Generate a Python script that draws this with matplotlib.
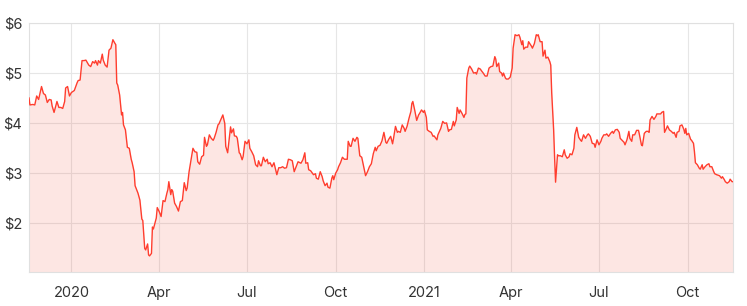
import pandas as pd
import matplotlib.pyplot as plt
import matplotlib.dates as mdates
from matplotlib.ticker import FuncFormatter

# share price readings (date, close)
dates = [
    '2019-11-18', '2019-11-19', '2019-11-22', '2019-11-24', '2019-11-26', '2019-11-28', '2019-12-01',
    '2019-12-03', '2019-12-05', '2019-12-07', '2019-12-09', '2019-12-11', '2019-12-12', '2019-12-14',
    '2019-12-17', '2019-12-19', '2019-12-21', '2019-12-23', '2019-12-25', '2019-12-26', '2019-12-28',
    '2019-12-30', '2020-01-01', '2020-01-04', '2020-01-07', '2020-01-08', '2020-01-10', '2020-01-12',
    '2020-01-14', '2020-01-16', '2020-01-19', '2020-01-21', '2020-01-23', '2020-01-25', '2020-01-26',
    '2020-01-28', '2020-01-29', '2020-01-31', '2020-02-02', '2020-02-03', '2020-02-05', '2020-02-07',
    '2020-02-09', '2020-02-11', '2020-02-13', '2020-02-15', '2020-02-16', '2020-02-17', '2020-02-18',
    '2020-02-20', '2020-02-22', '2020-02-23', '2020-02-24', '2020-02-26', '2020-02-28', '2020-03-01',
    '2020-03-03', '2020-03-04', '2020-03-06', '2020-03-07', '2020-03-08', '2020-03-10', '2020-03-12',
    '2020-03-14', '2020-03-15', '2020-03-17', '2020-03-18', '2020-03-20', '2020-03-21', '2020-03-22',
    '2020-03-24', '2020-03-25', '2020-03-26', '2020-03-29', '2020-03-30', '2020-04-01', '2020-04-03',
    '2020-04-05', '2020-04-07', '2020-04-09', '2020-04-10', '2020-04-11', '2020-04-13', '2020-04-14',
    '2020-04-15', '2020-04-17', '2020-04-19', '2020-04-21', '2020-04-23', '2020-04-25', '2020-04-27',
    '2020-04-29', '2020-04-30', '2020-05-02', '2020-05-04', '2020-05-06', '2020-05-08', '2020-05-10',
    '2020-05-11', '2020-05-13', '2020-05-15', '2020-05-17', '2020-05-18', '2020-05-20', '2020-05-21',
    '2020-05-23', '2020-05-25', '2020-05-27', '2020-05-28', '2020-05-30', '2020-06-01', '2020-06-02',
    '2020-06-04', '2020-06-06', '2020-06-08', '2020-06-09', '2020-06-11', '2020-06-13', '2020-06-14',
    '2020-06-15', '2020-06-17', '2020-06-18', '2020-06-20', '2020-06-21', '2020-06-23', '2020-06-24',
    '2020-06-26', '2020-06-27', '2020-06-29', '2020-07-01', '2020-07-03', '2020-07-04', '2020-07-06',
    '2020-07-08', '2020-07-10', '2020-07-12', '2020-07-13', '2020-07-15', '2020-07-16', '2020-07-18',
    '2020-07-20', '2020-07-22', '2020-07-23', '2020-07-25', '2020-07-27', '2020-07-29', '2020-07-30',
    '2020-08-01', '2020-08-03', '2020-08-05', '2020-08-07', '2020-08-09', '2020-08-11', '2020-08-13',
    '2020-08-15', '2020-08-17', '2020-08-19', '2020-08-21', '2020-08-23', '2020-08-26', '2020-08-28',
    '2020-08-30', '2020-08-31', '2020-09-02', '2020-09-03', '2020-09-05', '2020-09-08', '2020-09-10',
    '2020-09-11', '2020-09-13', '2020-09-15', '2020-09-17', '2020-09-18', '2020-09-20', '2020-09-22',
    '2020-09-23', '2020-09-25', '2020-09-27', '2020-09-28', '2020-09-29', '2020-10-01', '2020-10-03',
    '2020-10-04', '2020-10-06', '2020-10-08', '2020-10-10', '2020-10-13', '2020-10-14', '2020-10-16',
    '2020-10-17', '2020-10-19', '2020-10-21', '2020-10-23', '2020-10-24', '2020-10-26', '2020-10-28',
    '2020-10-30', '2020-11-01', '2020-11-03', '2020-11-05', '2020-11-07', '2020-11-09', '2020-11-11',
    '2020-11-12', '2020-11-14', '2020-11-16', '2020-11-18', '2020-11-20', '2020-11-22', '2020-11-23',
    '2020-11-25', '2020-11-27', '2020-11-29', '2020-11-30', '2020-12-02', '2020-12-04', '2020-12-05',
    '2020-12-07', '2020-12-09', '2020-12-11', '2020-12-12', '2020-12-14', '2020-12-16', '2020-12-18',
    '2020-12-19', '2020-12-20', '2020-12-22', '2020-12-24', '2020-12-26', '2020-12-27', '2020-12-29',
    '2020-12-31', '2021-01-01', '2021-01-03', '2021-01-04', '2021-01-06', '2021-01-08', '2021-01-10',
    '2021-01-11', '2021-01-14', '2021-01-15', '2021-01-18', '2021-01-20', '2021-01-22', '2021-01-24',
    '2021-01-26', '2021-01-27', '2021-01-29', '2021-01-31', '2021-02-01', '2021-02-03', '2021-02-04',
    '2021-02-06', '2021-02-07', '2021-02-09', '2021-02-11', '2021-02-12', '2021-02-13', '2021-02-14',
    '2021-02-16', '2021-02-17', '2021-02-19', '2021-02-21', '2021-02-23', '2021-02-24', '2021-02-26',
    '2021-02-28', '2021-03-01', '2021-03-03', '2021-03-05', '2021-03-07', '2021-03-09', '2021-03-11',
    '2021-03-13', '2021-03-15', '2021-03-16', '2021-03-17', '2021-03-19', '2021-03-20', '2021-03-22',
    '2021-03-23', '2021-03-24', '2021-03-26', '2021-03-27', '2021-03-29', '2021-03-31', '2021-04-02',
    '2021-04-03', '2021-04-05', '2021-04-07', '2021-04-09', '2021-04-10', '2021-04-12', '2021-04-13',
    '2021-04-14', '2021-04-16', '2021-04-18', '2021-04-19', '2021-04-20', '2021-04-22', '2021-04-23',
    '2021-04-25', '2021-04-27', '2021-04-28', '2021-04-29', '2021-05-01', '2021-05-03', '2021-05-04',
    '2021-05-06', '2021-05-07', '2021-05-09', '2021-05-11', '2021-05-12', '2021-05-13', '2021-05-15',
    '2021-05-16', '2021-05-17', '2021-05-19', '2021-05-20', '2021-05-22', '2021-05-24', '2021-05-26',
    '2021-05-27', '2021-05-29', '2021-05-31', '2021-06-01', '2021-06-03', '2021-06-05', '2021-06-06',
    '2021-06-08', '2021-06-10', '2021-06-12', '2021-06-13', '2021-06-15', '2021-06-17', '2021-06-19',
    '2021-06-20', '2021-06-22', '2021-06-24', '2021-06-26', '2021-06-27', '2021-06-29', '2021-07-01',
    '2021-07-03', '2021-07-04', '2021-07-06', '2021-07-08', '2021-07-09', '2021-07-11', '2021-07-13',
    '2021-07-15', '2021-07-16', '2021-07-18', '2021-07-20', '2021-07-22', '2021-07-23', '2021-07-25',
    '2021-07-27', '2021-07-28', '2021-07-30', '2021-08-01', '2021-08-02', '2021-08-04', '2021-08-05',
    '2021-08-07', '2021-08-09', '2021-08-11', '2021-08-12', '2021-08-14', '2021-08-15', '2021-08-17',
    '2021-08-19', '2021-08-21', '2021-08-22', '2021-08-23', '2021-08-25', '2021-08-27', '2021-08-29',
    '2021-08-30', '2021-09-01', '2021-09-03', '2021-09-04', '2021-09-06', '2021-09-07', '2021-09-09',
    '2021-09-10', '2021-09-12', '2021-09-14', '2021-09-16', '2021-09-17', '2021-09-19', '2021-09-20',
    '2021-09-22', '2021-09-23', '2021-09-25', '2021-09-27', '2021-09-28', '2021-09-29', '2021-09-30',
    '2021-10-02', '2021-10-04', '2021-10-05', '2021-10-07', '2021-10-08', '2021-10-09', '2021-10-11',
    '2021-10-13', '2021-10-14', '2021-10-16', '2021-10-17', '2021-10-19', '2021-10-21', '2021-10-23',
    '2021-10-24', '2021-10-26', '2021-10-28', '2021-10-29', '2021-10-31', '2021-11-03', '2021-11-05',
    '2021-11-06', '2021-11-08', '2021-11-09', '2021-11-11', '2021-11-13', '2021-11-14', '2021-11-16',
    '2021-11-17',
]
price = [
    4.50, 4.36, 4.37, 4.36, 4.54, 4.47, 4.73,
    4.59, 4.56, 4.41, 4.47, 4.46, 4.34, 4.21,
    4.43, 4.31, 4.31, 4.29, 4.43, 4.70, 4.73,
    4.54, 4.61, 4.65, 4.81, 4.85, 4.86, 5.25,
    5.25, 5.26, 5.16, 5.13, 5.23, 5.20, 5.25,
    5.16, 5.25, 5.20, 5.38, 5.26, 5.16, 5.12,
    5.46, 5.50, 5.67, 5.60, 5.57, 4.80, 4.76,
    4.56, 4.16, 4.21, 3.96, 3.86, 3.51, 3.49,
    3.27, 3.20, 3.02, 2.74, 2.69, 2.59, 2.45,
    2.07, 2.04, 1.48, 1.45, 1.57, 1.35, 1.33,
    1.38, 1.91, 1.87, 2.09, 2.30, 2.22, 2.12,
    2.44, 2.42, 2.59, 2.66, 2.82, 2.56, 2.66,
    2.63, 2.39, 2.32, 2.23, 2.42, 2.44, 2.80,
    2.64, 2.69, 3.02, 3.26, 3.49, 3.42, 3.41,
    3.22, 3.17, 3.32, 3.35, 3.71, 3.53, 3.56,
    3.76, 3.69, 3.65, 3.69, 3.81, 3.96, 3.98,
    4.07, 4.16, 3.99, 3.53, 3.40, 3.76, 3.92,
    3.80, 3.88, 3.74, 3.73, 3.69, 3.40, 3.38,
    3.26, 3.32, 3.63, 3.58, 3.66, 3.49, 3.42,
    3.34, 3.16, 3.12, 3.24, 3.14, 3.14, 3.31,
    3.22, 3.27, 3.18, 3.20, 3.12, 3.20, 3.12,
    2.96, 3.10, 3.10, 3.12, 3.09, 3.10, 3.27,
    3.26, 3.24, 3.02, 3.12, 3.22, 3.19, 3.26,
    3.40, 3.19, 3.20, 3.06, 3.04, 2.96, 2.98,
    2.89, 2.87, 3.02, 2.92, 2.84, 2.74, 2.79,
    2.71, 2.69, 2.89, 2.94, 2.86, 2.99, 3.06,
    3.12, 3.20, 3.31, 3.27, 3.27, 3.63, 3.53,
    3.53, 3.69, 3.63, 3.71, 3.69, 3.34, 3.31,
    3.12, 2.94, 3.02, 3.12, 3.18, 3.38, 3.51,
    3.44, 3.53, 3.55, 3.64, 3.81, 3.61, 3.59,
    3.67, 3.73, 3.58, 3.69, 3.93, 3.81, 3.83,
    3.81, 3.96, 3.89, 3.83, 3.93, 4.09, 4.23,
    4.39, 4.43, 4.25, 4.05, 4.16, 4.19, 4.26,
    4.21, 4.25, 4.11, 3.86, 3.83, 3.81, 3.73,
    3.74, 3.66, 3.76, 3.89, 4.03, 3.99, 4.00,
    3.83, 3.86, 3.87, 4.03, 3.94, 4.06, 4.31,
    4.19, 4.26, 4.19, 4.11, 4.17, 4.18, 4.90,
    5.10, 5.14, 5.08, 5.00, 5.01, 4.98, 5.10,
    5.08, 5.05, 5.00, 4.94, 4.94, 5.10, 5.13,
    5.14, 5.33, 5.28, 5.13, 5.20, 5.03, 5.00,
    4.94, 5.00, 4.90, 4.88, 4.88, 4.92, 5.10,
    5.50, 5.77, 5.75, 5.77, 5.72, 5.57, 5.65,
    5.48, 5.52, 5.52, 5.63, 5.60, 5.54, 5.50,
    5.59, 5.77, 5.75, 5.77, 5.63, 5.63, 5.34,
    5.46, 5.30, 5.32, 5.23, 5.16, 4.60, 3.86,
    3.30, 2.81, 3.36, 3.34, 3.34, 3.32, 3.46,
    3.36, 3.29, 3.32, 3.38, 3.36, 3.49, 3.76,
    3.91, 3.71, 3.65, 3.63, 3.76, 3.69, 3.76,
    3.78, 3.73, 3.59, 3.58, 3.51, 3.66, 3.56,
    3.63, 3.69, 3.76, 3.76, 3.78, 3.73, 3.79,
    3.83, 3.79, 3.86, 3.87, 3.81, 3.69, 3.65,
    3.61, 3.56, 3.66, 3.83, 3.69, 3.63, 3.76,
    3.76, 3.85, 3.85, 3.76, 3.56, 3.54, 3.79,
    3.83, 3.83, 3.81, 4.06, 4.13, 4.07, 4.13,
    4.18, 4.18, 4.18, 4.21, 4.23, 3.81, 3.89,
    3.94, 3.86, 3.83, 3.79, 3.81, 3.71, 3.81,
    3.83, 3.94, 3.96, 3.87, 3.79, 3.89, 3.76,
    3.79, 3.67, 3.65, 3.59, 3.42, 3.20, 3.16,
    3.09, 3.07, 3.16, 3.07, 3.12, 3.16, 3.18,
    3.12, 3.12, 3.02, 2.98, 2.96, 2.94, 2.89,
    2.92, 2.86, 2.82, 2.79, 2.82, 2.87, 2.82,
    2.82,
]

df = pd.DataFrame({'date': pd.to_datetime(dates), 'price': price})

plt.rcParams['font.family'] = ['Inter', 'DejaVu Sans']

fig = plt.figure(figsize=(7.47, 3.06), dpi=100)
ax = fig.add_axes([0.0388, 0.110, 0.9425, 0.814])

# translucent fill so the grid still shows through it
ax.fill_between(df['date'], df['price'], 1, color='#f5402c', alpha=0.13, linewidth=0, zorder=2)
ax.plot(df['date'], df['price'], color='#ff3d2e', linewidth=1.0, zorder=3)

ax.set_xlim(df['date'].iloc[0], df['date'].iloc[-1])
ax.set_ylim(1, 6)
ax.set_yticks([2, 3, 4, 5, 6])
ax.yaxis.set_major_formatter(FuncFormatter(lambda v, p: f'${v:.0f}'))

ax.xaxis.set_major_locator(mdates.MonthLocator(bymonth=[1, 4, 7, 10]))
ax.xaxis.set_major_formatter(FuncFormatter(
    lambda v, p: mdates.num2date(v).strftime('%Y') if mdates.num2date(v).month == 1
    else mdates.num2date(v).strftime('%b')))

ax.grid(True, color='#e6e6e6', linewidth=0.8, zorder=1)
ax.set_axisbelow(True)
for s in ax.spines.values():
    s.set_color('#e0e0e0')
    s.set_linewidth(0.8)
ax.tick_params(length=0, labelsize=10.5, colors='#333333')
ax.tick_params(axis='x', pad=10)
ax.tick_params(axis='y', pad=5)

plt.savefig('out.png', dpi=100)
